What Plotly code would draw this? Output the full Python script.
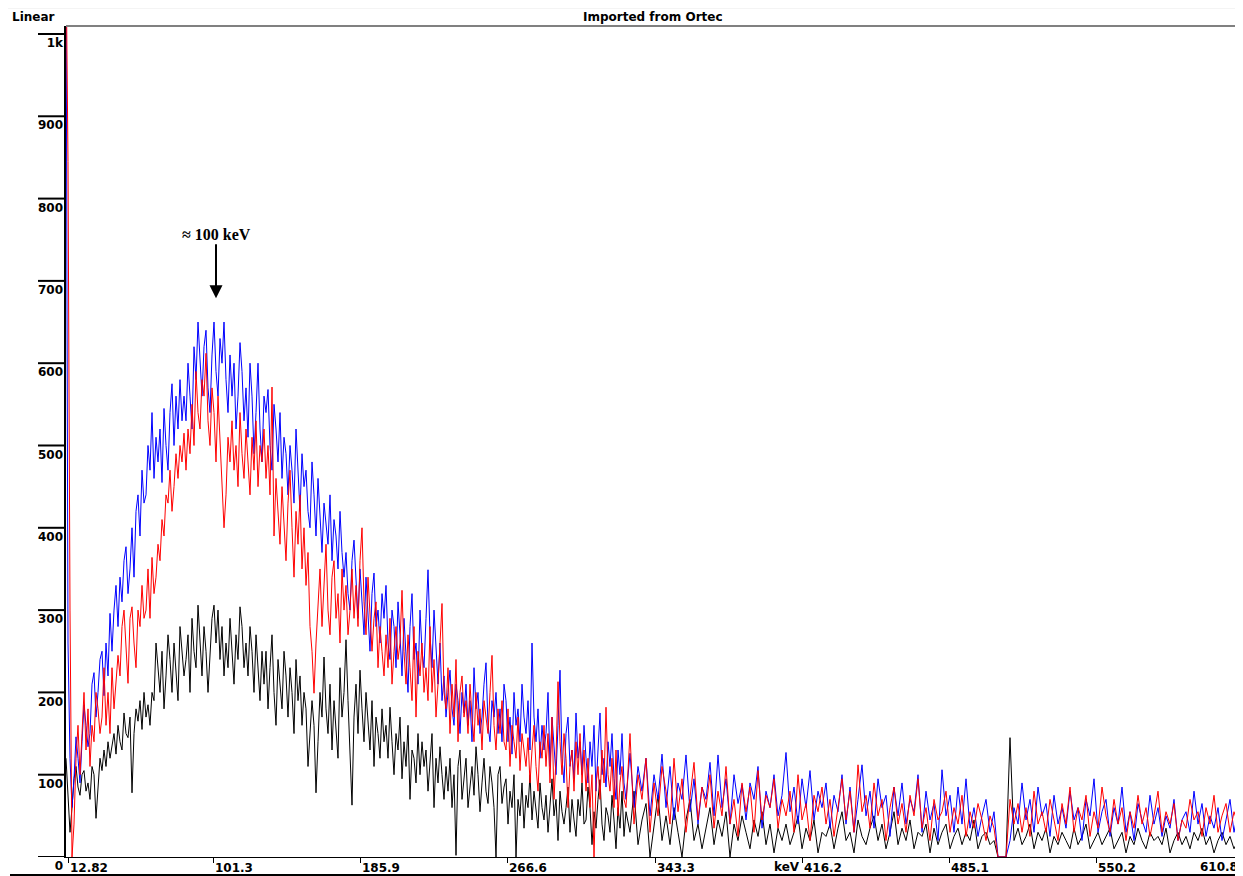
import plotly.graph_objects as go

# ---------------- data ----------------
# channels 0..558 every 2 channels, then 560..1172 every 4 channels
blue_counts = [
    1100, 260, 120, 60, 95, 146, 120, 90, 140, 185, 160, 134, 150, 210, 224, 170, 200, 240, 250, 196,
    260, 220, 296, 250, 300, 330, 280, 340, 310, 360, 377, 320, 350, 400, 340, 420, 440, 390, 470, 430,
    440, 500, 470, 540, 460, 510, 480, 520, 455, 545, 500, 470, 540, 575, 500, 560, 520, 580, 530, 560,
    530, 600, 560, 520, 620, 580, 650, 600, 560, 620, 640, 570, 540, 610, 650, 590, 560, 630, 600, 650,
    580, 540, 610, 560, 600, 520, 560, 625, 590, 530, 570, 510, 600, 560, 490, 540, 600, 520, 480, 560,
    540, 568, 500, 470, 550, 520, 480, 540, 460, 510, 490, 440, 500, 470, 430, 520, 460, 420, 490, 450,
    470, 420, 400, 480, 440, 390, 460, 410, 370, 430, 400, 380, 440, 360, 410, 390, 350, 420, 370, 340,
    370, 320, 300, 360, 385, 330, 290, 350, 310, 270, 340, 300, 250, 320, 345, 280, 300, 260, 320, 290,
    330, 260, 240, 300, 280, 230, 310, 270, 220, 290, 250, 200, 280, 320, 240, 260, 210, 300, 250, 230,
    290, 349, 270, 230, 300, 250, 210, 260, 190, 220, 170, 200, 227, 180, 160, 210, 190, 150, 200, 175,
    210, 160, 190, 140, 230, 180, 200, 150, 170, 210, 236, 160, 140, 190, 170, 200, 150, 180, 140, 210,
    190, 140, 170, 125, 200, 160, 180, 140, 210, 170, 150, 190, 130, 260, 170, 140, 180, 120, 160, 130,
    150, 200, 110, 170, 130, 100, 160, 227, 120, 90, 150, 170, 110, 130, 95, 175, 120, 140, 100, 160,
    120, 90, 140, 110, 160, 80, 130, 175, 100, 120, 85, 140, 110, 150, 95, 70, 130, 100, 150, 90,
    70, 126, 60, 110, 80, 120, 50, 100, 70, 125,
    60, 110, 45, 90, 70, 124, 55, 95, 40, 85,
    70, 115, 50, 124, 60, 95, 40, 100, 65, 88,
    45, 90, 70, 110, 35, 80, 60, 100, 50, 75,
    127, 55, 85, 40, 95, 60, 105, 45, 80, 60,
    90, 35, 75, 55, 100, 40, 85, 30, 70, 112,
    50, 80, 35, 95, 60, 75, 25, 85, 50, 90,
    40, 70, 55, 100, 30, 80, 45, 65, 20, 106,
    50, 75, 30, 85, 40, 95, 35, 60, 25, 50,
    70, 30, 55, 0, 0, 0, 20, 60, 40, 90,
    45, 70, 30, 85, 50, 65, 25, 75, 40, 60,
    35, 80, 45, 60, 20, 70, 50, 95, 30, 55,
    70, 25, 60, 40, 85, 30, 55, 20, 65, 45,
    30, 75, 40, 60, 25, 50, 35, 70, 20, 45,
    55, 30, 80, 40, 65, 25, 50, 35, 60, 20,
    45, 70, 30, 55,
]

red_counts = [
    1100, 845, 300, 0, 40, 120, 160, 100, 150, 200, 130, 180, 110, 160, 140, 200, 180, 150, 170, 230,
    160, 200, 150, 230, 180, 210, 245, 220, 280, 300, 250, 211, 290, 304, 260, 230, 300, 280, 330, 290,
    300, 350, 290, 364, 320, 340, 380, 360, 410, 390, 440, 430, 470, 420, 450, 490, 460, 500, 480, 515,
    470, 520, 490, 550, 500, 590, 540, 520, 580, 560, 612, 530, 500, 570, 540, 480, 560, 510, 460, 400,
    440, 510, 480, 530, 470, 500, 450, 540, 490, 460, 520, 480, 440, 510, 470, 530, 450, 500, 480, 520,
    460, 500, 440, 571, 390, 460, 420, 380, 450, 400, 360, 430, 470, 400, 340, 420, 380, 440, 350, 400,
    330, 370, 280, 250, 199, 260, 300, 350, 280, 330, 380, 300, 270, 340, 360, 290, 320, 260, 350, 300,
    330, 270, 300, 350, 290, 330, 280, 360, 400, 310, 270, 340, 300, 250, 290, 310, 230, 280, 250, 220,
    270, 230, 290, 210, 250, 280, 240, 260, 324, 250, 210, 270, 230, 190, 280, 170, 250, 220, 260, 200,
    230, 190, 280, 200, 240, 170, 210, 260, 308, 200, 180, 230, 150, 210, 170, 240, 140, 200, 220, 170,
    190, 150, 210, 170, 140, 200, 160, 180, 130, 190, 170, 150, 200, 245, 160, 130, 180, 150, 190, 140,
    130, 180, 110, 160, 140, 120, 170, 105, 150, 130, 110, 145, 90, 130, 160, 110, 80, 140, 120, 160,
    110, 150, 90, 170, 70, 120, 213, 140, 100, 150, 120, 60, 110, 130, 80, 140, 100, 150, 90, 130,
    80, 120, 60, 100, 0, 90, 110, 70, 130, 90, 182, 100, 80, 120, 60, 130, 50, 90, 110, 70,
    60, 150, 40, 100, 70, 120, 30, 90, 50, 110,
    80, 40, 120, 55, 95, 30, 75, 115, 45, 85,
    60, 100, 35, 80, 50, 110, 40, 70, 25, 90,
    55, 85, 30, 105, 45, 75, 60, 95, 35, 70,
    50, 80, 30, 100, 45, 65, 20, 75, 55, 85,
    40, 70, 25, 60, 95, 45, 80, 30, 112, 55,
    75, 35, 90, 50, 70, 20, 60, 85, 40, 65,
    30, 75, 50, 95, 35, 60, 20, 70, 45, 55,
    80, 30, 60, 40, 75, 25, 55, 35, 65, 45,
    20, 50, 35, 0, 0, 0, 70, 40, 65, 30,
    60, 25, 80, 40, 55, 30, 70, 45, 20, 65,
    40, 85, 30, 60, 45, 75, 25, 55, 35, 85,
    50, 30, 70, 40, 60, 20, 55, 35, 75, 40,
    60, 25, 50, 80, 30, 55, 40, 65, 20, 45,
    35, 70, 45, 55, 25, 60, 40, 75, 30, 50,
    65, 30, 55, 40,
]

black_counts = [
    120, 80, 30, 60, 95, 110, 85, 75, 100, 105, 80, 90, 70, 110, 100, 47, 90, 120, 105, 130,
    110, 140, 120, 135, 150, 125, 160, 140, 130, 175, 150, 145, 170, 78, 150, 180, 165, 190, 155, 200,
    170, 185, 160, 200, 190, 260, 230, 200, 250, 180, 220, 270, 240, 200, 260, 230, 190, 280, 250, 220,
    240, 270, 200, 290, 250, 230, 306, 260, 220, 280, 250, 200, 240, 290, 306, 260, 300, 240, 280, 220,
    260, 230, 290, 250, 210, 270, 240, 304, 280, 230, 260, 220, 280, 250, 200, 270, 230, 190, 250, 210,
    250, 180, 230, 270, 200, 160, 240, 210, 180, 250, 220, 170, 230, 200, 150, 240, 190, 220, 160, 200,
    180, 110, 150, 190, 160, 78, 140, 200, 170, 243, 180, 150, 210, 130, 190, 160, 120, 230, 170, 200,
    264, 190, 120, 63, 170, 210, 150, 227, 180, 140, 200, 160, 130, 190, 110, 170, 150, 120, 180, 140,
    160, 120, 182, 140, 100, 150, 130, 170, 95, 140, 110, 160, 70, 130, 120, 90, 150, 100, 140, 110,
    130, 80, 110, 150, 60, 120, 90, 134, 100, 70, 110, 80, 120, 60, 100, 2, 110, 130, 70, 100,
    120, 60, 90, 110, 75, 134, 100, 55, 90, 120, 80, 65, 110, 90, 60, 0, 100, 110, 65, 85,
    95, 40, 80, 60, 100, 0, 70, 50, 90, 35, 75, 60, 100, 45, 80, 55, 35, 90, 60, 45,
    75, 30, 60, 95, 50, 70, 20, 80, 55, 40, 60, 85, 30, 70, 45, 25, 70, 50, 90, 40,
    45, 85, 60, 15, 55, 35, 70, 94, 40, 20, 60, 50, 30, 75, 45, 10, 60, 35, 80, 25,
    55, 30, 80, 15, 45, 65, 0, 40, 75, 20,
    50, 15, 60, 30, 0, 45, 70, 20, 40, 10,
    35, 60, 15, 45, 25, 55, 0, 40, 20, 50,
    30, 10, 45, 25, 55, 15, 40, 5, 35, 20,
    40, 15, 30, 50, 10, 35, 20, 45, 5, 30,
    25, 40, 10, 35, 55, 20, 30, 5, 45, 25,
    15, 35, 50, 20, 40, 10, 30, 55, 15, 35,
    20, 45, 10, 30, 25, 40, 5, 35, 15, 30,
    40, 10, 25, 35, 15, 30, 20, 45, 10, 25,
    30, 15, 20, 0, 0, 0, 145, 20, 35, 15,
    25, 40, 10, 30, 20, 35, 5, 25, 15, 30,
    20, 10, 35, 15, 25, 40, 10, 20, 30, 15,
    25, 35, 10, 20, 30, 5, 25, 15, 35, 20,
    10, 30, 20, 25, 15, 35, 5, 20, 30, 15,
    25, 10, 30, 20, 35, 15, 25, 5, 20, 30,
    15, 25, 10, 20,
]

channels = list(range(0, 560, 2)) + list(range(560, 1176, 4))

x_tick_channels = [2, 147, 294, 441, 589, 736, 883, 1030]
x_tick_labels = ["12.82", "101.3", "185.9", "266.6", "343.3", "416.2", "485.1", "550.2"]
x_last_label = "610.8"
x_unit = "keV"

y_tick_values = [0, 100, 200, 300, 400, 500, 600, 700, 800, 900, 1000]
y_tick_labels = ["0", "100", "200", "300", "400", "500", "600", "700", "800", "900", "1k"]
right_tick_values = [1001, 977, 948, 922, 899, 877, 838, 802, 778]

peak_channel = 150
peak_count = 679
peak_text = "≈ 100 keV"

X_RANGE = [0, 1174]
Y_RANGE = [0, 1009.7]

# ---------------- figure ----------------
# the page body has an 8px margin, so the figure is 8px smaller on each axis
PLOT_W = 1174  # plot-area width in px
bold = dict(family="DejaVu Sans", size=12, color="black", weight="bold")

fig = go.Figure()
fig.add_trace(go.Scatter(x=channels[:len(black_counts)], y=black_counts, mode="lines",
                         line=dict(color="#000000", width=1), yaxis="y", showlegend=False))
fig.add_trace(go.Scatter(x=channels[:len(blue_counts)], y=blue_counts, mode="lines",
                         line=dict(color="#0000ff", width=1), yaxis="y2", showlegend=False))
fig.add_trace(go.Scatter(x=channels[:len(red_counts)], y=red_counts, mode="lines",
                         line=dict(color="#ff0000", width=1), yaxis="y3", showlegend=False))

fig.update_layout(
    width=1235, height=868,
    margin=dict(l=58, r=3, t=18, b=19, autoexpand=False),
    paper_bgcolor="white", plot_bgcolor="white",
    xaxis=dict(range=X_RANGE, tickvals=x_tick_channels, ticktext=x_tick_labels,
               ticks="outside", ticklen=5, tickcolor="black", tickwidth=1,
               showline=True, linecolor="black", linewidth=1, mirror=False,
               showgrid=False, zeroline=False, tickfont=bold, automargin=False,
               ticklabelshift=21, ticklabelstandoff=-5),
    yaxis=dict(range=Y_RANGE, tickvals=y_tick_values, showticklabels=False, ticks="",
               showline=True, linecolor="black", linewidth=2,
               showgrid=False, zeroline=False, automargin=False),
    yaxis2=dict(range=Y_RANGE, overlaying="y", side="left", tickvals=y_tick_values,
                ticktext=y_tick_labels, ticks="", showline=False, showgrid=False,
                zeroline=False, tickfont=bold, ticklabelshift=9, ticklabelstandoff=2,
                automargin=False),
    yaxis3=dict(range=Y_RANGE, overlaying="y", side="right", showticklabels=False,
                ticks="", showline=False, showgrid=False, zeroline=False,
                automargin=False),
)

# long left tick lines sitting above each y label, short marks on the right border
for v in y_tick_values:
    fig.add_shape(type="line", xref="paper", yref="y", x0=-28 / PLOT_W, x1=0, y0=v, y1=v,
                  line=dict(color="black", width=2))
for v in right_tick_values:
    fig.add_shape(type="line", xref="paper", yref="y", x0=1 - 5 / PLOT_W, x1=1, y0=v, y1=v,
                  line=dict(color="#404040", width=1))

fig.add_annotation(x=peak_channel, y=peak_count, xref="x", yref="y", text=peak_text,
                   showarrow=True, ax=0, ay=-64, arrowhead=2, arrowsize=1.3,
                   arrowwidth=2, arrowcolor="black", standoff=0,
                   font=dict(family="Liberation Serif", size=16, color="black", weight="bold"))

fig.add_annotation(x=-0.0477, y=1.0108, xref="paper", yref="paper", text="Linear",
                   showarrow=False, xanchor="left", yanchor="middle", font=bold)
fig.add_annotation(x=0.5, y=1.0108, xref="paper", yref="paper", text="Imported from Ortec",
                   showarrow=False, xanchor="center", yanchor="middle", font=bold)
fig.add_annotation(x=0.614, y=-0.012, xref="paper", yref="paper", text=x_unit,
                   showarrow=False, xanchor="center", yanchor="middle", font=bold)
fig.add_annotation(x=1.0, y=-0.012, xref="paper", yref="paper", text=x_last_label,
                   showarrow=False, xanchor="right", yanchor="middle", font=bold)

# frame lines
fig.add_shape(type="line", xref="paper", yref="paper", x0=0, x1=1, y0=1, y1=1,
              line=dict(color="#808080", width=2))
fig.add_shape(type="line", xref="paper", yref="paper", x0=-0.0562, x1=1.0026, y0=1.0217, y1=1.0217,
              line=dict(color="#e6e6e6", width=1))
fig.add_shape(type="line", xref="paper", yref="paper", x0=1.001, x1=1.001, y0=1.0217, y1=-0.023,
              line=dict(color="black", width=3))
fig.add_shape(type="line", xref="paper", yref="paper", x0=-0.0477, x1=1.0026, y0=-0.0217, y1=-0.0217,
              line=dict(color="black", width=2))

fig.write_html("out.html")
